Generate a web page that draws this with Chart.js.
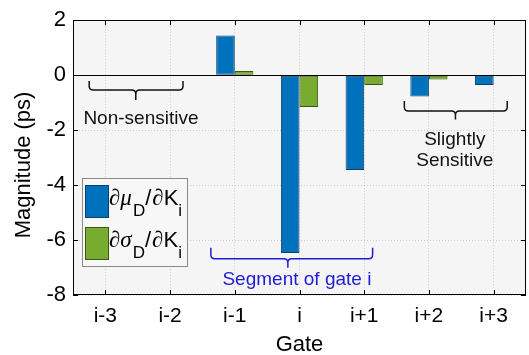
<!DOCTYPE html>
<html>
<head>
<meta charset="utf-8">
<script src="https://cdn.jsdelivr.net/npm/chart.js@4.4.1/dist/chart.umd.min.js"></script>
<style>
  html, body { margin: 0; padding: 0; background: #fff; }
  #wrap { width: 529px; height: 355px; }
</style>
</head>
<body>
<div id="wrap"><canvas id="sens-chart" width="529" height="355"></canvas></div>
<script>
// gate sensitivities (ps)
const gates = ['i-3', 'i-2', 'i-1', 'i', 'i+1', 'i+2', 'i+3'];
const dMu = [0, 0, 1.44, -6.47, -3.45, -0.78, -0.36];
const dSigma = [0, 0, 0.15, -1.16, -0.36, -0.16, -0.04];
const yMin = -8, yMax = 2, yStep = 2;

const FONT = "'Liberation Sans', Arial, Helvetica, sans-serif";
const MATH = "'Liberation Serif', 'DejaVu Serif', serif";
const BLUE = '#0072BD', GREEN = '#77AC30';

// braces + notes, in data units (x = category index, y = value)
const notes = [
    { x1: -0.25, x2: 1.20, tip: 0.47, yEnd: -0.21, yLine: -0.54, yTip: -0.90,
      color: '#111', text: [{ s: 'Non-sensitive', x: 0.55, y: -1.77 }] },
    { x1: 4.62, x2: 6.21, tip: 5.41, yEnd: -0.94, yLine: -1.30, yTip: -1.61,
      color: '#111', text: [{ s: 'Slightly', x: 5.40, y: -2.53 }, { s: 'Sensitive', x: 5.40, y: -3.30 }] },
    { x1: 1.63, x2: 4.13, tip: 2.82, yEnd: -6.28, yLine: -6.68, yTip: -7.01,
      color: '#1c1cd6', text: [{ s: 'Segment of gate i', x: 2.96, y: -7.65 }] }
];

function drawBrace(ctx, x1, x2, xTip, yEnd, yLine, yTip) {
    const c = 4;
    const d = Math.sign(yLine - yEnd);
    ctx.beginPath();
    ctx.moveTo(x1, yEnd);
    ctx.lineTo(x1, yLine - d * c);
    ctx.quadraticCurveTo(x1, yLine, x1 + c, yLine);
    ctx.lineTo(xTip - c, yLine);
    ctx.quadraticCurveTo(xTip, yLine, xTip, yLine + d * c);
    ctx.lineTo(xTip, yTip);
    ctx.moveTo(xTip, yLine + d * c);
    ctx.quadraticCurveTo(xTip, yLine, xTip + c, yLine);
    ctx.lineTo(x2 - c, yLine);
    ctx.quadraticCurveTo(x2, yLine, x2, yLine - d * c);
    ctx.lineTo(x2, yEnd);
    ctx.stroke();
}

// legend label like  ∂μ_D/∂K_i
function drawLegendLabel(ctx, x, base, greek) {
    const parts = [
        { t: '\u2202' + greek, f: 'italic 23px ' + MATH, dy: 0, gap: 1 },
        { t: 'D', f: '17px ' + FONT, dy: 11, gap: 0 },
        { t: '/', f: '22px ' + FONT, dy: 0, gap: 1 },
        { t: '\u2202', f: 'italic 23px ' + MATH, dy: 0, gap: 0 },
        { t: 'K', f: '22px ' + FONT, dy: 0, gap: 0 },
        { t: 'i', f: '17px ' + FONT, dy: 11, gap: 0 }
    ];
    ctx.fillStyle = '#000';
    ctx.textAlign = 'left';
    ctx.textBaseline = 'alphabetic';
    parts.forEach(p => {
        ctx.font = p.f;
        ctx.fillText(p.t, x, base + p.dy);
        x += ctx.measureText(p.t).width + p.gap;
    });
}

const framePlugin = {
    id: 'frame',
    beforeDraw(chart) {
        const { ctx, chartArea: a } = chart;
        ctx.save();
        ctx.fillStyle = '#fff';
        ctx.fillRect(0, 0, chart.width, chart.height);
        ctx.fillStyle = '#f5f5f5';
        ctx.fillRect(a.left, a.top, a.right - a.left, a.bottom - a.top);
        ctx.restore();
    },
    afterDatasetsDraw(chart) {
        const { ctx, chartArea: a, scales: { x, y } } = chart;
        ctx.save();
        ctx.strokeStyle = '#000';
        ctx.lineWidth = 1;
        // baseline at zero
        const y0 = Math.round(y.getPixelForValue(0)) + 0.5;
        ctx.beginPath();
        ctx.moveTo(a.left, y0);
        ctx.lineTo(a.right, y0);
        ctx.stroke();
        // box
        ctx.strokeRect(Math.round(a.left) + 0.5, Math.round(a.top) + 0.5,
            Math.round(a.right - a.left) - 1, Math.round(a.bottom - a.top) - 1);
        // inward tick marks
        ctx.beginPath();
        gates.forEach((g, i) => {
            const px = Math.round(x.getPixelForValue(i)) + 0.5;
            ctx.moveTo(px, a.bottom); ctx.lineTo(px, a.bottom - 5);
            ctx.moveTo(px, a.top); ctx.lineTo(px, a.top + 5);
        });
        for (let v = yMin; v <= yMax; v += yStep) {
            const py = Math.round(y.getPixelForValue(v)) + 0.5;
            ctx.moveTo(a.left, py); ctx.lineTo(a.left + 5, py);
            ctx.moveTo(a.right, py); ctx.lineTo(a.right - 5, py);
        }
        ctx.stroke();
        ctx.restore();
    },
    afterDraw(chart) {
        const { ctx, chartArea: a, scales: { x, y } } = chart;
        ctx.save();

        // annotations
        ctx.lineWidth = 1.5;
        notes.forEach(n => {
            ctx.strokeStyle = n.color;
            drawBrace(ctx, x.getPixelForValue(n.x1), x.getPixelForValue(n.x2), x.getPixelForValue(n.tip),
                y.getPixelForValue(n.yEnd), y.getPixelForValue(n.yLine), y.getPixelForValue(n.yTip));
            ctx.fillStyle = n.color;
            ctx.font = '19px ' + FONT;
            ctx.textAlign = 'center';
            ctx.textBaseline = 'alphabetic';
            n.text.forEach(t => ctx.fillText(t.s, x.getPixelForValue(t.x), y.getPixelForValue(t.y)));
        });

        // legend box
        const lx = a.left + 9, ly = a.bottom - 117;
        ctx.fillStyle = '#f7f7f7';
        ctx.fillRect(lx, ly, 105, 88);
        ctx.strokeStyle = '#8a8a8a';
        ctx.lineWidth = 1;
        ctx.strokeRect(lx + 0.5, ly + 0.5, 105, 88);
        [[BLUE, '#10406a', '\u03bc'], [GREEN, '#3a5a12', '\u03c3']].forEach((e, k) => {
            const sy = ly + 7 + k * 42;
            ctx.fillStyle = e[0];
            ctx.fillRect(lx + 3, sy, 24, 33);
            ctx.strokeStyle = e[1];
            ctx.strokeRect(lx + 3.5, sy + 0.5, 23, 32);
            drawLegendLabel(ctx, lx + 27, sy + 20, e[2]);
        });

        // axis titles
        ctx.fillStyle = '#000';
        ctx.textAlign = 'center';
        ctx.textBaseline = 'middle';
        ctx.font = '22px ' + FONT;
        ctx.fillText('Gate', (a.left + a.right) / 2, 345);
        ctx.translate(24, 165);
        ctx.rotate(-Math.PI / 2);
        ctx.font = '22px ' + FONT;
        ctx.fillText('Magnitude (ps)', 0, 0);
        ctx.restore();
    }
};

Chart.defaults.font.family = FONT;
Chart.defaults.color = '#000';

new Chart(document.getElementById('sens-chart'), {
    type: 'bar',
    data: {
        labels: gates,
        datasets: [
            { label: '\u2202\u03bcD/\u2202Ki', data: dMu, backgroundColor: BLUE,
              borderColor: '#10406a', borderWidth: 1, borderSkipped: false },
            { label: '\u2202\u03c3D/\u2202Ki', data: dSigma, backgroundColor: GREEN,
              borderColor: '#3a5a12', borderWidth: 1, borderSkipped: false }
        ]
    },
    options: {
        responsive: false,
        animation: false,
        categoryPercentage: 0.575,
        barPercentage: 1,
        layout: { padding: { top: 19, right: 3, left: 0, bottom: 0 } },
        plugins: { legend: { display: false }, tooltip: { enabled: false } },
        scales: {
            x: {
                offset: true,
                grid: { offset: false, drawTicks: false, color: 'rgba(0,0,0,0.16)' },
                border: { display: false, dash: [1, 2] },
                ticks: { font: { size: 21 }, padding: 9, maxRotation: 0 },
                afterFit: s => { s.height = 60; }
            },
            y: {
                min: yMin, max: yMax,
                grid: { drawTicks: false, color: 'rgba(0,0,0,0.16)' },
                border: { display: false, dash: [1, 2] },
                ticks: { stepSize: yStep, font: { size: 22 }, padding: 7 },
                afterFit: s => { s.width = 73; }
            }
        }
    },
    plugins: [framePlugin]
});
</script>
</body>
</html>
